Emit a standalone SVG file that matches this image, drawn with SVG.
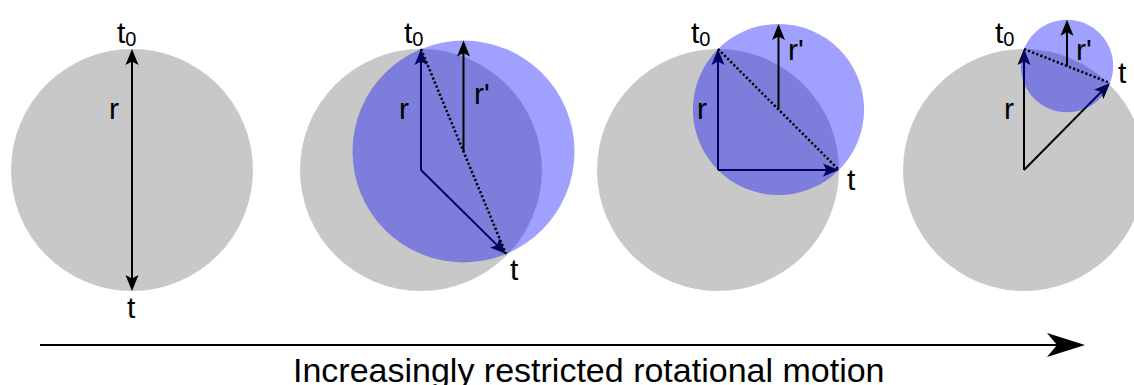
<svg xmlns="http://www.w3.org/2000/svg" width="1134" height="385" viewBox="0 0 1134 385">
<style>
.gray{fill:#c8c8c8}
.blue{fill:#0000ff;fill-opacity:0.373}
.arr{stroke:#000;stroke-width:2;fill:none;marker-end:url(#ah)}
.dot{stroke:#000;stroke-width:2.5;fill:none;stroke-dasharray:2.2,2.2}
.lbl{font-family:"Liberation Sans",Arial,sans-serif;font-size:30px;fill:#000}
.sub{font-size:20px}
</style>
<defs>
<marker id="ah" viewBox="-17 -8 18 16" markerWidth="18" markerHeight="16" refX="-3" refY="0" orient="auto" markerUnits="userSpaceOnUse">
<path d="M0,0 L-16,-6.5 L-12.5,0 L-16,6.5 Z" fill="#000"/>
</marker>
<marker id="big" viewBox="-40 -13 41 26" markerWidth="41" markerHeight="26" refX="-4" refY="0" orient="auto" markerUnits="userSpaceOnUse">
<path d="M0,0 L-38,-12 L-28,0 L-38,12 Z" fill="#000"/>
</marker>
</defs>

<g id="panel1">
<circle class="gray" cx="132" cy="170" r="121"/>
<line class="arr" x1="132" y1="170" x2="132" y2="52"/>
<line class="arr" x1="132" y1="170" x2="132" y2="288"/>
<text class="lbl" x="117" y="43">t<tspan class="sub" dy="3">0</tspan></text>
<text class="lbl" x="109" y="119">r</text>
<text class="lbl" x="127" y="318">t</text>
</g>

<g id="panel2">
<circle class="gray" cx="421" cy="170" r="121"/>
<line class="arr" x1="421" y1="170" x2="421" y2="52"/>
<line class="arr" x1="421" y1="170" x2="503.9" y2="251.9"/>
<circle class="blue" cx="463.5" cy="151.5" r="111"/>
<line class="arr" x1="463.5" y1="151.5" x2="463.5" y2="43.5"/>
<line class="dot" x1="421" y1="49" x2="506" y2="254"/>
<text class="lbl" x="404" y="43">t<tspan class="sub" dy="3">0</tspan></text>
<text class="lbl" x="399" y="119">r</text>
<text class="lbl" x="474" y="104">r'</text>
<text class="lbl" x="510" y="280">t</text>
</g>

<g id="panel3">
<circle class="gray" cx="718" cy="170" r="121"/>
<line class="arr" x1="718" y1="170" x2="718" y2="52"/>
<line class="arr" x1="718" y1="170" x2="836" y2="170"/>
<circle class="blue" cx="778.5" cy="109.5" r="85.6"/>
<line class="arr" x1="778.5" y1="109.5" x2="778.5" y2="27"/>
<line class="dot" x1="718" y1="49" x2="839" y2="170"/>
<text class="lbl" x="691" y="43">t<tspan class="sub" dy="3">0</tspan></text>
<text class="lbl" x="697" y="119">r</text>
<text class="lbl" x="788" y="60">r'</text>
<text class="lbl" x="847" y="190">t</text>
</g>

<g id="panel4">
<circle class="gray" cx="1024" cy="170" r="121"/>
<line class="arr" x1="1024" y1="170" x2="1024" y2="52"/>
<line class="arr" x1="1024" y1="170" x2="1107.9" y2="85.1"/>
<circle class="blue" cx="1067" cy="66" r="46.2"/>
<line class="arr" x1="1067" y1="66" x2="1067" y2="22.8"/>
<line class="dot" x1="1024" y1="49" x2="1110" y2="83"/>
<text class="lbl" x="995" y="43">t<tspan class="sub" dy="3">0</tspan></text>
<text class="lbl" x="1004" y="119">r</text>
<text class="lbl" x="1076" y="60">r'</text>
<text class="lbl" x="1118" y="83">t</text>
</g>

<g id="connectors">
<line x1="40" y1="345" x2="1081" y2="345" stroke="#000" stroke-width="2.2" marker-end="url(#big)"/>
</g>
<text class="lbl" x="293" y="382" style="font-size:34px">Increasingly restricted rotational motion</text>
</svg>
